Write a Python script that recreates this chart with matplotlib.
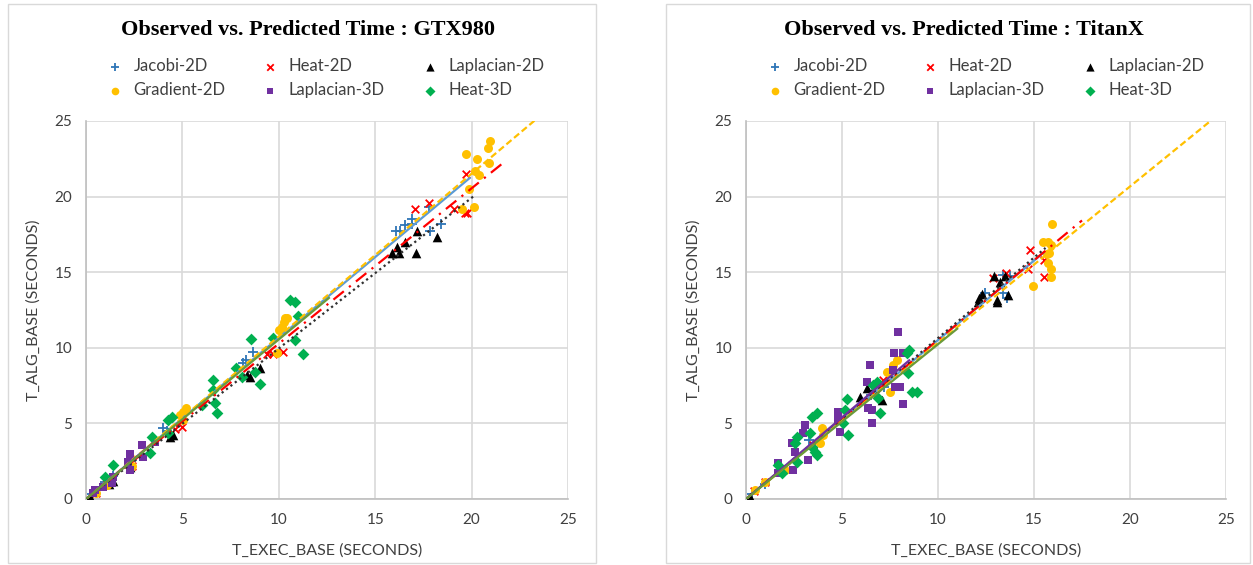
import numpy as np
import matplotlib
matplotlib.use('Agg')
import matplotlib.pyplot as plt
from matplotlib.patches import Rectangle

#------------------------------ data : GTX980 --------------------------------#
gtx_jacobi_x = [0.3, 1.0, 1.4, 2.4, 4.0, 4.2, 8.16, 8.3, 8.68, 16.1, 16.3, 16.55, 16.9, 16.9, 17.8, 17.85, 18.4]
gtx_jacobi_y = [0.3, 1.1, 1.5, 2.6, 4.67, 4.5, 8.97, 9.2, 9.74, 17.7, 17.7, 18.1, 18.2, 18.55, 19.3, 17.75, 18.2]
gtx_heat2d_x = [0.5, 1.1, 2.4, 4.6, 4.96, 9.4, 9.68, 10.2, 17.06, 17.8, 19.09, 19.66, 19.7, 19.78]
gtx_heat2d_y = [0.4, 1.0, 2.2, 4.6, 4.78, 9.6, 9.59, 9.74, 19.16, 19.6, 19.2, 18.9, 21.5, 18.9]
gtx_lap2d_x = [0.2, 1.2, 1.4, 2.3, 4.36, 4.5, 8.33, 8.5, 9.0, 15.85, 16.15, 16.25, 16.55, 17.1, 17.15, 18.2]
gtx_lap2d_y = [0.1, 1.0, 1.2, 2.1, 4.12, 4.23, 8.2, 8.1, 8.64, 16.25, 16.65, 16.25, 17.0, 16.3, 17.75, 17.3]
gtx_grad_x = [0.5, 1.1, 2.3, 2.4, 4.88, 5.05, 5.05, 5.2, 9.9, 10.0, 10.06, 10.15, 10.27, 10.3, 10.4,
              19.5, 19.7, 19.85, 20.1, 20.2, 20.3, 20.4, 20.87, 20.9, 20.95]
gtx_grad_y = [0.4, 0.9, 2.8, 2.2, 5.55, 5.77, 5.22, 6.0, 9.64, 11.2, 11.2, 11.4, 11.73, 11.95, 11.95,
              19.2, 22.8, 20.5, 19.3, 21.7, 22.5, 21.4, 23.2, 22.2, 23.7]
gtx_lap3d_x = [0.38, 0.47, 0.9, 1.33, 1.42, 2.2, 2.28, 2.28, 2.9, 2.97, 3.6]
gtx_lap3d_y = [0.38, 0.6, 0.81, 1.04, 1.47, 2.47, 3.0, 1.92, 3.57, 2.8, 3.8]
gtx_heat3d_x = [0.99, 1.42, 3.32, 3.4, 4.27, 4.27, 4.44, 6.0, 6.57, 6.6, 6.69, 6.78, 7.8, 8.07, 8.54,
                8.77, 9.02, 9.71, 10.58, 10.84, 10.84, 11.0, 11.24]
gtx_heat3d_y = [1.47, 2.25, 3.02, 4.12, 4.34, 5.22, 5.44, 6.22, 7.87, 7.2, 6.33, 5.71, 8.64, 8.09, 10.56,
                8.42, 7.6, 10.63, 13.16, 13.05, 10.5, 12.1, 9.59]
# how far each trendline is drawn along x
gtx_trend_end = [19.9, 21.8, 20.1, 24.0, 3.6, 12.6]

#------------------------------ data : TitanX --------------------------------#
tx_jacobi_x = [0.3, 1.0, 3.3, 3.5, 6.5, 7.2, 12.45, 13.4, 13.4, 13.58, 13.75]
tx_jacobi_y = [0.3, 1.0, 3.9, 3.3, 6.9, 7.4, 13.6, 14.8, 13.65, 13.27, 14.75]
tx_heat2d_x = [0.4, 1.0, 3.5, 6.8, 7.15, 12.85, 13.54, 14.7, 14.8, 15.52, 15.52]
tx_heat2d_y = [0.5, 1.1, 3.6, 7.0, 7.87, 14.64, 14.97, 15.2, 16.47, 14.66, 15.8]
tx_lap2d_x = [0.2, 5.94, 6.28, 6.63, 7.07, 12.1, 12.15, 12.27, 12.92, 13.06, 13.09, 13.23, 13.49, 13.63]
tx_lap2d_y = [0.1, 6.77, 7.32, 7.2, 6.55, 13.05, 13.27, 13.56, 14.77, 13.05, 13.16, 14.37, 14.75, 13.49]
tx_grad_x = [0.47, 0.99, 2.03, 3.85, 3.94, 4.03, 7.33, 7.5, 7.67, 7.85,
             14.97, 15.45, 15.7, 15.75, 15.75, 15.8, 15.87, 15.87, 15.87, 15.95]
tx_grad_y = [0.6, 1.14, 1.92, 3.68, 4.67, 4.23, 8.42, 7.1, 8.86, 9.19,
             14.09, 17.02, 16.2, 17.02, 15.63, 16.25, 16.8, 15.19, 14.66, 18.17]
tx_lap3d_x = [1.68, 1.68, 2.38, 2.46, 2.55, 2.98, 3.07, 3.25, 4.8, 4.8, 4.9, 6.28, 6.37, 6.46,
              6.55, 6.55, 7.67, 7.71, 7.76, 7.93, 8.02, 8.19, 8.19]
tx_lap3d_y = [2.36, 1.7, 3.68, 1.92, 3.13, 4.34, 4.89, 2.58, 5.77, 5.22, 4.45, 7.76, 6.0, 8.86,
              5.89, 5.05, 8.53, 9.68, 7.43, 11.07, 7.43, 9.68, 6.28]
tx_heat3d_x = [1.68, 1.86, 2.55, 2.64, 2.64, 3.33, 3.42, 3.42, 3.59, 3.68, 3.68, 5.07, 5.16, 5.24,
               5.33, 6.63, 6.8, 6.89, 6.98, 8.37, 8.45, 8.5, 8.63, 8.92]
tx_heat3d_y = [2.25, 1.7, 3.68, 4.12, 2.47, 4.34, 5.44, 3.46, 3.13, 5.67, 2.91, 5.0, 5.89, 6.59,
               4.23, 7.54, 7.76, 6.66, 5.67, 9.63, 8.31, 9.85, 7.1, 7.1]
tx_trend_end = [15.5, 17.5, 15.6, 25.0, 8.5, 11.0]

names = ['Jacobi-2D', 'Heat-2D', 'Laplacian-2D', 'Gradient-2D', 'Laplacian-3D', 'Heat-3D']

#------------------------------ styles ---------------------------------------#
markers = ['+', 'x', '^', 'o', 's', 'D']
colors = ['#2E75B6', '#FF0000', '#000000', '#FFC000', '#7030A0', '#00B050']
sizes = [42, 30, 48, 42, 34, 36]
line_colors = ['#5B9BD5', '#FF0000', '#303030', '#FFC000', '#7030A0', '#6A9A3A']
line_styles = ['-', (0, (6, 3, 1, 3)), (0, (1, 1.5)), (0, (3, 1.5)), '-', '-']

plt.rcParams['font.family'] = ['Lato', 'DejaVu Sans']


def draw_panel(ax, xs, ys, trend_end, title, title_x):
    handles = []
    for i in range(6):
        x = np.array(xs[i])
        y = np.array(ys[i])
        h = ax.scatter(x, y, marker=markers[i], s=sizes[i], c=colors[i],
                       linewidths=1.3 if markers[i] in '+x' else 0, zorder=3 + i * 0.1)
        handles.append(h)
    # linear trendlines, forced through the origin like in Excel
    for i in range(6):
        x = np.array(xs[i])
        y = np.array(ys[i])
        slope = np.sum(x * y) / np.sum(x * x)
        ax.plot([0, trend_end[i]], [0, slope * trend_end[i]], color=line_colors[i],
                ls=line_styles[i], lw=1.6, zorder=5 + i * 0.1)

    ax.set_xlim(0, 25)
    ax.set_ylim(0, 25)
    ax.set_xticks([0, 5, 10, 15, 20, 25])
    ax.set_yticks([0, 5, 10, 15, 20, 25])
    ax.grid(True, color='#D9D9D9', lw=1.2)
    ax.set_axisbelow(True)
    for s in ['top', 'right']:
        ax.spines[s].set_visible(False)
    for s in ['left', 'bottom']:
        ax.spines[s].set_color('#BFBFBF')
        ax.spines[s].set_linewidth(1.2)
    ax.tick_params(length=0, labelsize=11, colors='#404040', pad=10)
    ax.set_xlabel('T_EXEC_BASE (SECONDS)', fontsize=11.5, color='#404040', labelpad=12)
    ax.set_ylabel('T_ALG_BASE (SECONDS)', fontsize=11.5, color='#404040', labelpad=10)
    ax.set_title(title, family='Liberation Serif', fontweight='bold', fontsize=16,
                 color='#000000', pad=62, x=title_x)

    # legend filled column by column, so reorder to read row by row
    order = [0, 3, 1, 4, 2, 5]
    leg = ax.legend([handles[k] for k in order], [names[k] for k in order], ncol=3,
                    loc='lower left', bbox_to_anchor=(0.012, 1.042), frameon=False,
                    fontsize=12, handletextpad=0.1, columnspacing=1.7,
                    labelspacing=0.5, markerscale=0.85, borderaxespad=0)
    for t in leg.get_texts():
        t.set_color('#404040')


fig = plt.figure(figsize=(12.53, 5.65), dpi=100)

# chart area borders
fig.patches.append(Rectangle((8 / 1253, 2 / 565), 588 / 1253, 559 / 565, transform=fig.transFigure,
                             fill=False, edgecolor='#D9D9D9', lw=1))
fig.patches.append(Rectangle((666 / 1253, 2 / 565), 584 / 1253, 559 / 565, transform=fig.transFigure,
                             fill=False, edgecolor='#D9D9D9', lw=1))

ax1 = fig.add_axes([86 / 1253, 66 / 565, 482 / 1253, 378 / 565])
draw_panel(ax1,
           [gtx_jacobi_x, gtx_heat2d_x, gtx_lap2d_x, gtx_grad_x, gtx_lap3d_x, gtx_heat3d_x],
           [gtx_jacobi_y, gtx_heat2d_y, gtx_lap2d_y, gtx_grad_y, gtx_lap3d_y, gtx_heat3d_y],
           gtx_trend_end, 'Observed vs. Predicted Time : GTX980', 0.46)

ax2 = fig.add_axes([746 / 1253, 66 / 565, 480 / 1253, 378 / 565])
draw_panel(ax2,
           [tx_jacobi_x, tx_heat2d_x, tx_lap2d_x, tx_grad_x, tx_lap3d_x, tx_heat3d_x],
           [tx_jacobi_y, tx_heat2d_y, tx_lap2d_y, tx_grad_y, tx_lap3d_y, tx_heat3d_y],
           tx_trend_end, 'Observed vs. Predicted Time : TitanX', 0.454)

fig.savefig('out.png', dpi=100)
